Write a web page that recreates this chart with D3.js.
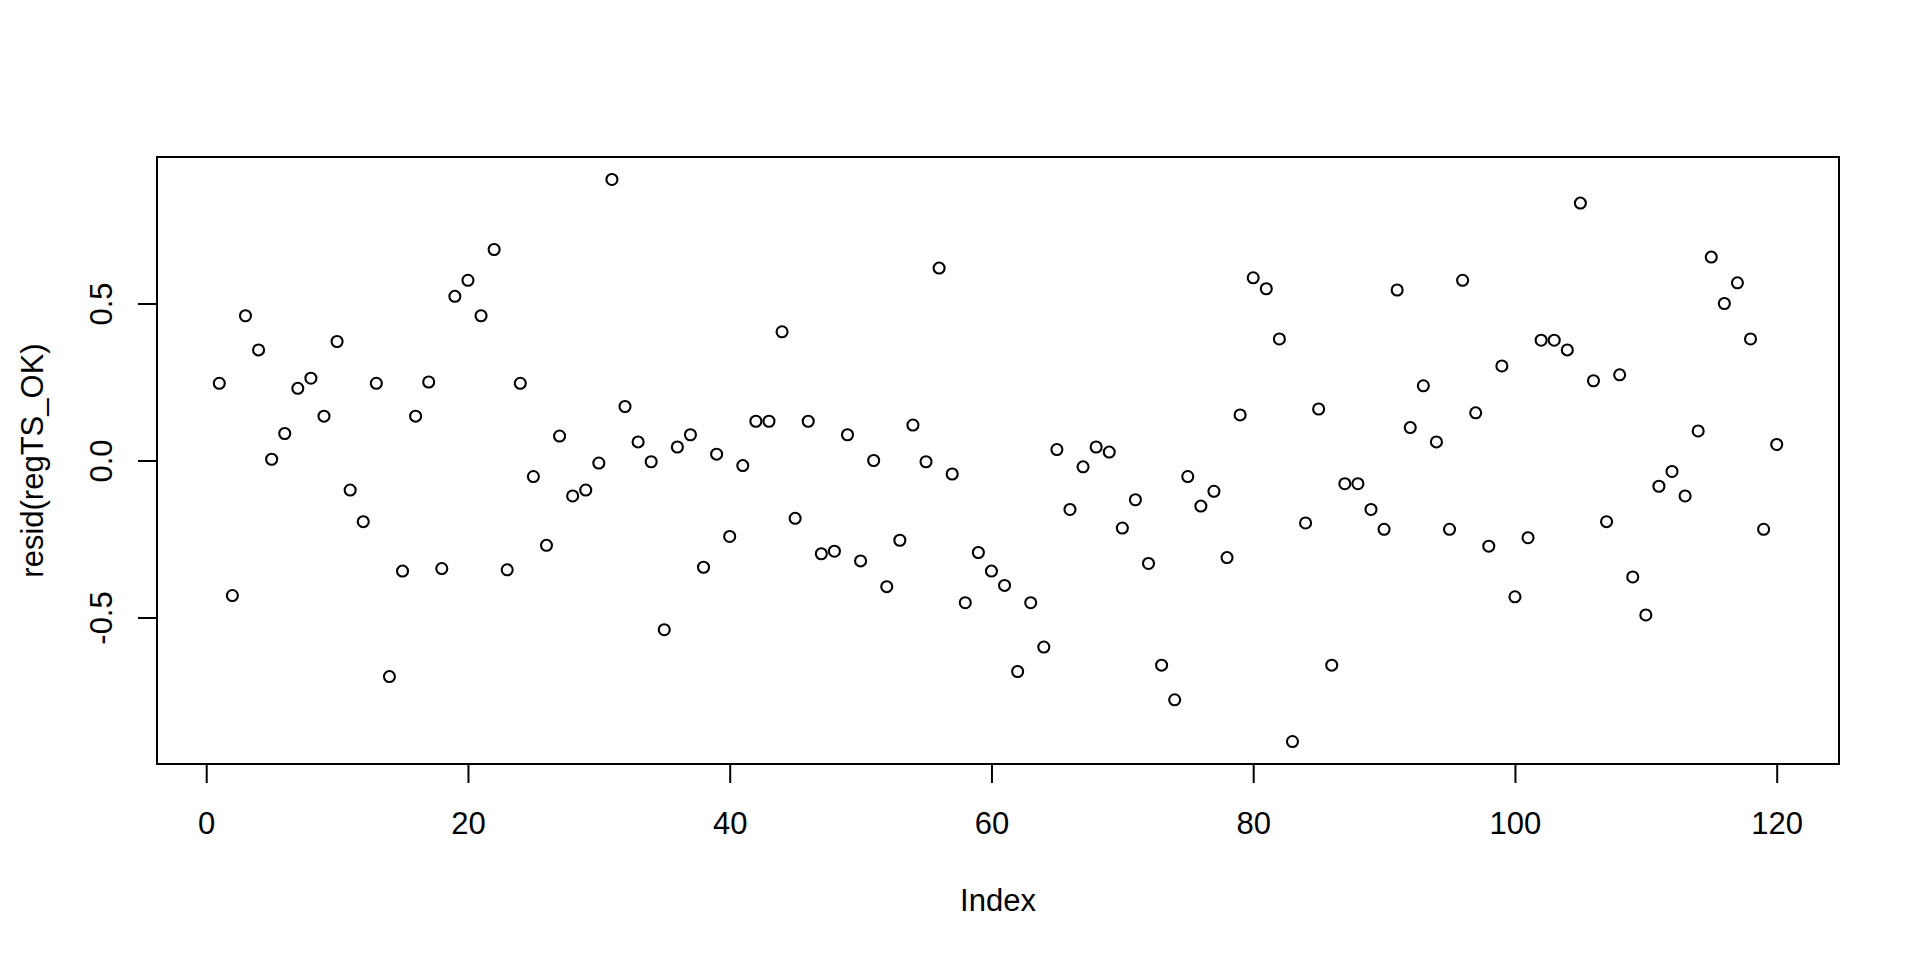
<!DOCTYPE html>
<html>
<head>
<meta charset="utf-8">
<script src="https://cdn.jsdelivr.net/npm/d3@7"></script>
<style>
  body { margin: 0; background: #fff; }
  text { font-family: "Liberation Sans", Arial, sans-serif; fill: #000; }
</style>
</head>
<body>
<svg width="1920" height="960"></svg>
<script>
// residuals, index 1..120
var resid = [
   0.246, -0.430,  0.461,  0.352,  0.004,  0.086,  0.230,  0.262,  0.141,  0.379,
  -0.094, -0.195,  0.246, -0.688, -0.352,  0.141,  0.250, -0.344,  0.523,  0.574,
   0.461,  0.672, -0.348,  0.246, -0.051, -0.270,  0.078, -0.113, -0.094, -0.008,
   0.895,  0.172,  0.059, -0.004, -0.539,  0.043,  0.082, -0.340,  0.020, -0.242,
  -0.016,  0.125,  0.125,  0.410, -0.184,  0.125, -0.297, -0.289,  0.082, -0.320,
   0.000, -0.402, -0.254,  0.113, -0.004,  0.613, -0.043, -0.453, -0.293, -0.352,
  -0.398, -0.672, -0.453, -0.594,  0.035, -0.156, -0.020,  0.043,  0.027, -0.215,
  -0.125, -0.328, -0.652, -0.762, -0.051, -0.145, -0.098, -0.309,  0.145,  0.582,
   0.547,  0.387, -0.895, -0.199,  0.164, -0.652, -0.074, -0.074, -0.156, -0.219,
   0.543,  0.105,  0.238,  0.059, -0.219,  0.574,  0.152, -0.273,  0.301, -0.434,
  -0.246,  0.383,  0.383,  0.352,  0.820,  0.254, -0.195,  0.273, -0.371, -0.492,
  -0.082, -0.035, -0.113,  0.094,  0.648,  0.500,  0.566,  0.387, -0.219,  0.051
];
var index = d3.range(1, resid.length + 1);

var xTicks = [0, 20, 40, 60, 80, 100, 120];
var yTicks = [-0.5, 0.0, 0.5];

var svg = d3.select("svg");

// plot region (window.top is read-only, so no bare "top")
var plotL = 157, plotR = 1839, plotT = 157, plotB = 764;

// R style: data range padded by 4% each side
function pad(ext) {
    var d = (ext[1] - ext[0]) * 0.04;
    return [ext[0] - d, ext[1] + d];
}

var x = d3.scaleLinear().domain(pad(d3.extent(index))).range([plotL, plotR]);
var y = d3.scaleLinear().domain(pad(d3.extent(resid))).range([plotB, plotT]);

var font = '"Liberation Sans", Arial, sans-serif';

// box
svg.append("rect")
    .attr("x", plotL).attr("y", plotT)
    .attr("width", plotR - plotL).attr("height", plotB - plotT)
    .attr("fill", "none").attr("stroke", "#000").attr("stroke-width", 2);

// x axis
var xAxis = svg.append("g")
    .attr("transform", "translate(0," + plotB + ")")
    .call(d3.axisBottom(x).tickValues(xTicks).tickSize(19).tickPadding(0).tickSizeOuter(0));
xAxis.select(".domain")
    .attr("d", "M" + x(xTicks[0]) + ",0H" + x(xTicks[xTicks.length - 1]))
    .attr("stroke-width", 2);
xAxis.selectAll(".tick line").attr("stroke-width", 2);
xAxis.selectAll(".tick text")
    .attr("y", 70).attr("dy", null)
    .style("font-size", "31px")
    .style("font-family", font);

// y axis
var yAxis = svg.append("g")
    .attr("transform", "translate(" + plotL + ",0)")
    .call(d3.axisLeft(y).tickValues(yTicks).tickSize(19).tickSizeOuter(0));
yAxis.select(".domain")
    .attr("d", "M0," + y(yTicks[0]) + "V" + y(yTicks[yTicks.length - 1]))
    .attr("stroke-width", 2);
yAxis.selectAll(".tick line").attr("stroke-width", 2);
yAxis.selectAll(".tick text")
    .attr("x", null).attr("dy", null)
    .attr("text-anchor", "middle")
    .attr("transform", "translate(-45,0) rotate(-90)")
    .text(function (d) { return d.toFixed(1); })
    .style("font-size", "31px")
    .style("font-family", font);

// titles
svg.append("text")
    .attr("x", (plotL + plotR) / 2).attr("y", 911)
    .attr("text-anchor", "middle")
    .style("font-size", "31px")
    .text("Index");

svg.append("text")
    .attr("transform", "translate(43," + (plotT + plotB) / 2 + ") rotate(-90)")
    .attr("text-anchor", "middle")
    .style("font-size", "31px")
    .text("resid(regTS_OK)");

// points
svg.append("g")
    .selectAll("circle")
    .data(resid)
    .enter()
    .append("circle")
    .attr("cx", function (d, i) { return x(index[i]); })
    .attr("cy", function (d) { return y(d); })
    .attr("r", 5.5)
    .attr("fill", "none")
    .attr("stroke", "#000")
    .attr("stroke-width", 2.1);
</script>
</body>
</html>
